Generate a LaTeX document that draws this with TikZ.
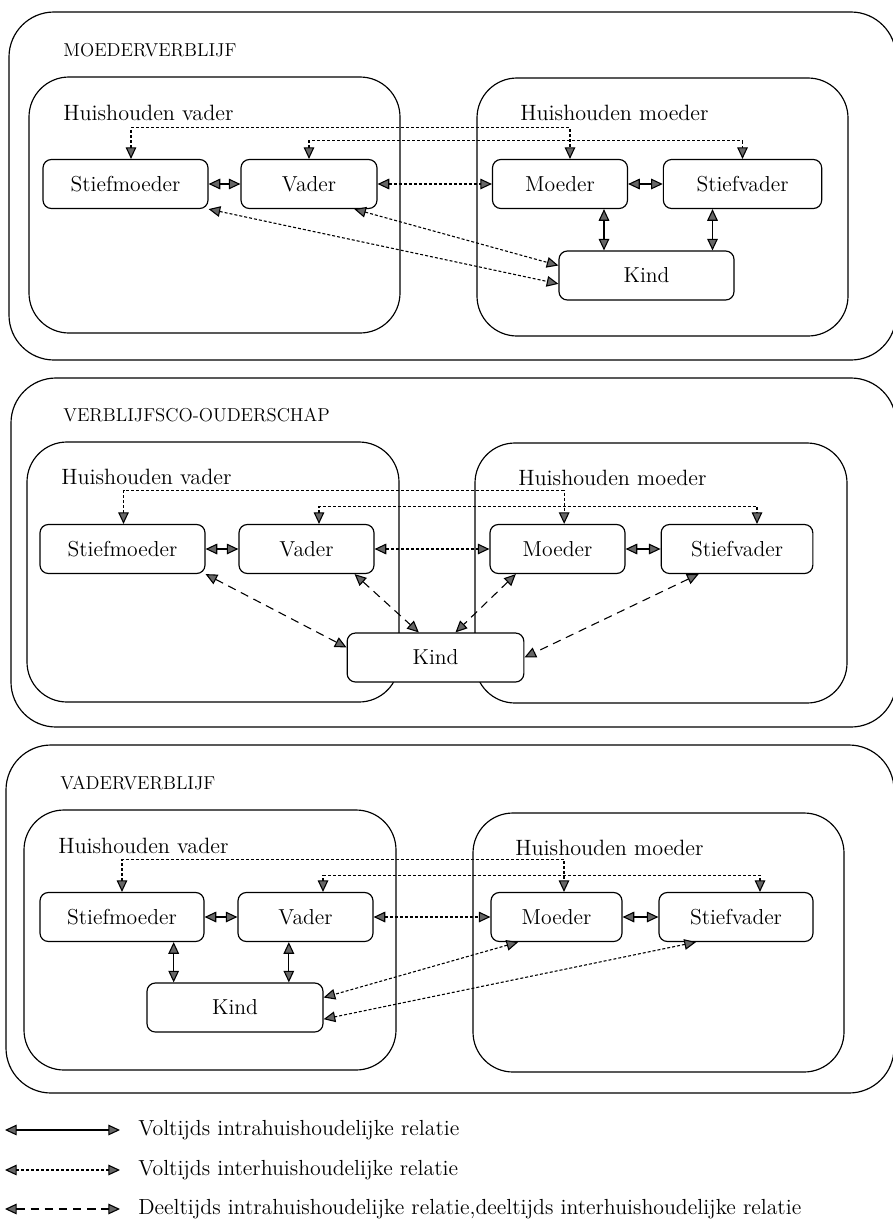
\documentclass[tikz,border=0pt]{standalone}
\usetikzlibrary{arrows.meta}
\tikzset{
  hd/.tip={Triangle[length=7pt,width=6.4pt,fill=black!60]},
  box/.style={draw,rounded corners=5pt,fill=white,minimum height=29.4pt,inner sep=2pt,line width=0.7pt,font=\fontsize{13}{15}\selectfont},
  panel/.style={draw,line width=0.7pt,rounded corners=27pt},
  house/.style={draw,line width=0.7pt,rounded corners=24pt},
  intra/.style={hd-hd,line width=0.65pt},
  inter/.style={hd-hd,line width=0.65pt,dash pattern=on 1.8pt off 1.2pt},
  part/.style={hd-hd,line width=0.65pt,dash pattern=on 5pt off 3.5pt},
  title/.style={anchor=west,inner sep=0pt,font=\fontsize{11.2}{13}\selectfont},
  hlabel/.style={anchor=west,inner sep=0pt,font=\fontsize{13.3}{15}\selectfont},
  legend/.style={anchor=west,inner sep=0pt,font=\fontsize{13.1}{15}\selectfont},
}
\begin{document}
\begin{tikzpicture}[x=0.6pt,y=-0.6pt]
      \useasboundingbox (0,0) rectangle (893,1222);
      % moederverblijf
      \draw[panel] (9,12) rectangle (896,360);
      \draw[house] (29,77) rectangle (400,333);
      \draw[house] (477,78) rectangle (848,336);
      \node[title] (t1) at (63,50) {MOEDERVERBLIJF};
      \node[hlabel] (hv1) at (63,113) {Huishouden vader};
      \node[hlabel] (hm1) at (520,113) {Huishouden moeder};
      \node[box,minimum width=99pt] (sm1) at (125.5,184) {Stiefmoeder};
      \node[box,minimum width=81.6pt] (va1) at (309,184) {Vader};
      \node[box,minimum width=81pt] (mo1) at (560,184) {Moeder};
      \node[box,minimum width=95pt] (sv1) at (742.5,184) {Stiefvader};
      \node[box,minimum width=105pt] (ki1) at (646.5,275.5) {Kind};
      \draw[inter] ([xshift=3.3pt]sm1.north) -- ++(0,-31) -| ([xshift=6pt]mo1.north);
      \draw[inter] (va1.north) -- ++(0,-18) -| (sv1.north);
      \draw[intra] (sm1) to (va1);
      \draw[inter] (va1) to (mo1);
      \draw[intra] (mo1) to (sv1);
      \draw[intra] ([xshift=26.4pt]mo1.south) to ([xshift=26.4pt]mo1.south |- ki1.north);
      \draw[intra] ([xshift=-18pt]sv1.south) to ([xshift=-18pt]sv1.south |- ki1.north);
      \draw[inter] (sm1.south east) to ([yshift=-5pt]ki1.west);
      \draw[inter] ([xshift=-14pt]va1.south east) to ([yshift=6pt]ki1.west);
      % verblijfsco-ouderschap
      \draw[panel] (11,378) rectangle (896,727);
      \draw[house] (27,442) rectangle (399,702);
      \draw[house] (475,443) rectangle (847,703);
      \node[title] (t2) at (63,415) {VERBLIJFSCO-OUDERSCHAP};
      \node[hlabel] (hv2) at (61,477) {Huishouden vader};
      \node[hlabel] (hm2) at (518,478) {Huishouden moeder};
      \node[box,minimum width=99pt] (sm2) at (122.5,549) {Stiefmoeder};
      \node[box,minimum width=81pt] (va2) at (306.5,549) {Vader};
      \node[box,minimum width=81pt] (mo2) at (557.5,549) {Moeder};
      \node[box,minimum width=91pt] (sv2) at (737,549) {Stiefvader};
      \node[box,minimum width=106pt] (ki2) at (435.5,657.5) {Kind};
      \draw[inter] ([xshift=0.6pt]sm2.north) -- ++(0,-33.5) -| ([xshift=4pt]mo2.north);
      \draw[inter] ([xshift=7.5pt]va2.north) -- ++(0,-17.5) -| ([xshift=12pt]sv2.north);
      \draw[intra] (sm2) to (va2);
      \draw[inter] (va2) to (mo2);
      \draw[intra] (mo2) to (sv2);
      \draw[part] (sm2.south east) to ([yshift=6pt]ki2.west);
      \draw[part] ([xshift=-12pt]va2.south east) to ([xshift=-10pt]ki2.north);
      \draw[part] ([xshift=-25pt]mo2.south) to ([xshift=12pt]ki2.north);
      \draw[part] ([xshift=-23pt]sv2.south) to (ki2.east);
      % vaderverblijf
      \draw[panel] (6,745) rectangle (894,1093);
      \draw[house] (24,810) rectangle (396,1070);
      \draw[house] (473,813) rectangle (844,1072);
      \node[title] (t3) at (60,783) {VADERVERBLIJF};
      \node[hlabel] (hv3) at (58,846) {Huishouden vader};
      \node[hlabel] (hm3) at (515,848) {Huishouden moeder};
      \node[box,minimum width=98.4pt] (sm3) at (122,917) {Stiefmoeder};
      \node[box,minimum width=81pt] (va3) at (305.5,917) {Vader};
      \node[box,minimum width=78.6pt] (mo3) at (556.5,917) {Moeder};
      \node[box,minimum width=92.4pt] (sv3) at (736,917) {Stiefvader};
      \node[box,minimum width=105.6pt] (ki3) at (235,1007.5) {Kind};
      \draw[inter] (sm3.north) -- ++(0,-32.5) -| ([xshift=4.5pt]mo3.north);
      \draw[inter] ([xshift=10.5pt]va3.north) -- ++(0,-16.5) -| ([xshift=14.4pt]sv3.north);
      \draw[intra] (sm3) to (va3);
      \draw[inter] (va3) to (mo3);
      \draw[intra] (mo3) to (sv3);
      \draw[intra] ([xshift=31pt]sm3.south) to ([xshift=31pt]sm3.south |- ki3.north);
      \draw[intra] ([xshift=-10pt]va3.south) to ([xshift=-10pt]va3.south |- ki3.north);
      \draw[inter] ([xshift=-23pt]mo3.south) to ([yshift=6pt]ki3.east);
      \draw[inter] ([xshift=-24pt]sv3.south) to ([yshift=-7pt]ki3.east);
      % legenda
      \coordinate (a1) at (5,1130);
      \coordinate (b1) at (120,1130);
      \coordinate (a2) at (5,1170);
      \coordinate (b2) at (120,1170);
      \coordinate (a3) at (5,1209);
      \coordinate (b3) at (120,1209);
      \draw[intra] (a1) to (b1);
      \draw[inter] (a2) to (b2);
      \draw[part] (a3) to (b3);
      \node[legend] (l1) at (138,1130) {Voltijds intrahuishoudelijke relatie};
      \node[legend] (l2) at (138,1170) {Voltijds interhuishoudelijke relatie};
      \node[legend] (l3) at (138,1209) {Deeltijds intrahuishoudelijke relatie,deeltijds interhuishoudelijke relatie};
    \end{tikzpicture}
\end{document}
